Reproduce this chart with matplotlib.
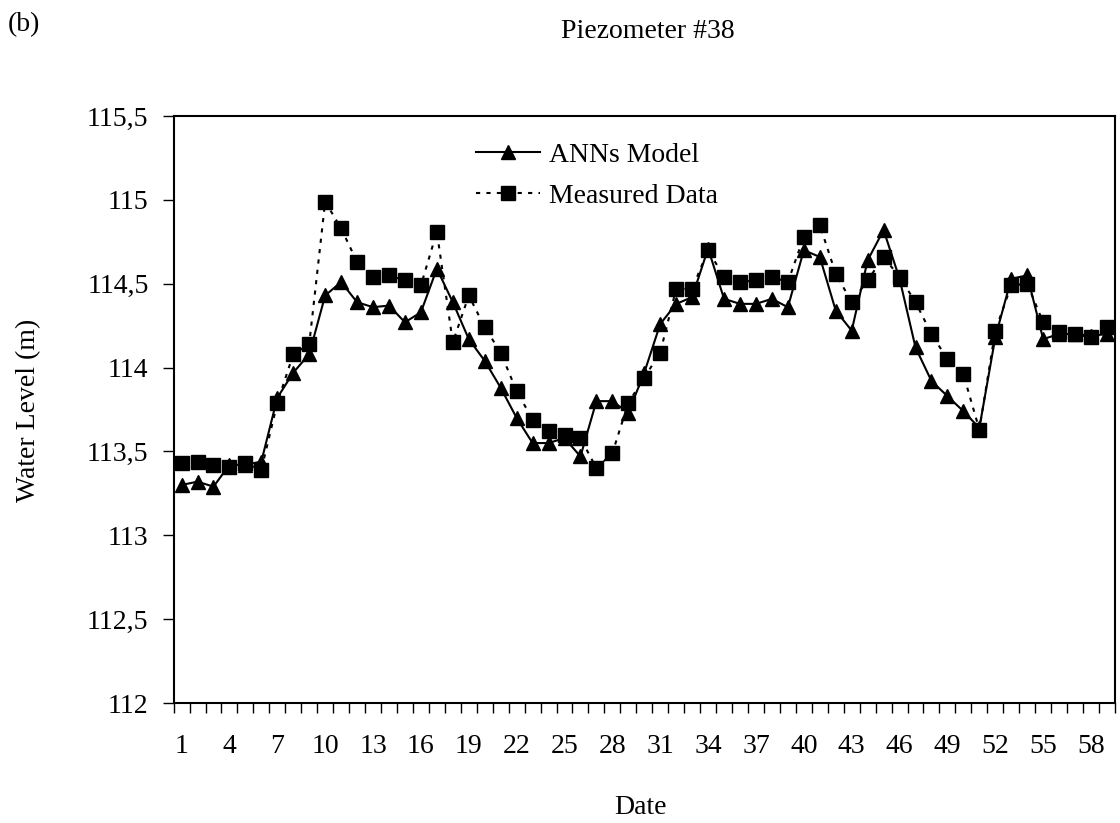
import matplotlib
matplotlib.use('Agg')
import numpy as np
import matplotlib.pyplot as plt
from matplotlib.ticker import FuncFormatter

# Fechas (indice de muestreo) y niveles de agua
fechas = np.arange(1, 60)

ann_model = [113.30, 113.32, 113.29, 113.42, 113.42, 113.44, 113.82, 113.97, 114.08, 114.43,
             114.51, 114.39, 114.36, 114.37, 114.27, 114.33, 114.59, 114.39, 114.17, 114.04,
             113.88, 113.70, 113.55, 113.55, 113.58, 113.47, 113.80, 113.80, 113.73, 113.97,
             114.26, 114.38, 114.42, 114.71, 114.41, 114.38, 114.38, 114.41, 114.36, 114.70,
             114.66, 114.34, 114.22, 114.64, 114.82, 114.53, 114.12, 113.92, 113.83, 113.74,
             113.64, 114.18, 114.53, 114.55, 114.17, 114.20, 114.20, 114.19, 114.20]

measured = [113.43, 113.44, 113.42, 113.41, 113.43, 113.39, 113.79, 114.08, 114.14, 114.99,
            114.83, 114.63, 114.54, 114.55, 114.52, 114.49, 114.81, 114.15, 114.43, 114.24,
            114.09, 113.86, 113.69, 113.62, 113.60, 113.58, 113.40, 113.49, 113.79, 113.94,
            114.09, 114.47, 114.47, 114.70, 114.54, 114.51, 114.52, 114.54, 114.51, 114.78,
            114.85, 114.56, 114.39, 114.52, 114.66, 114.54, 114.39, 114.20, 114.05, 113.96,
            113.63, 114.22, 114.49, 114.50, 114.27, 114.21, 114.20, 114.18, 114.24]

plt.rcParams['font.family'] = ['Liberation Serif', 'DejaVu Serif']
fs = 20

fig = plt.figure(figsize=(11.2, 8.23), dpi=100)
ax = fig.add_axes([0.155, 0.1458, 0.8405, 0.7132])

ax.plot(fechas, ann_model, 'k-', lw=1.5, marker='^', ms=10, label='ANNs Model')
ax.plot(fechas, measured, 'k', ls=(0, (2, 3)), lw=1.5, marker='s', ms=9.5, label='Measured Data')

ax.set_xlim(0.5, 59.5)
ax.set_ylim(112, 115.5)
ax.set_yticks(np.arange(112, 115.51, 0.5))
ax.yaxis.set_major_formatter(FuncFormatter(lambda v, p: ('%g' % v).replace('.', ',')))

# etiquetas cada 3 fechas, marcas entre categorias
ax.set_xticks(fechas[::3])
ax.set_xticks(np.arange(0.5, 60, 1), minor=True)
ax.tick_params(axis='x', which='major', length=0, pad=22, labelsize=fs)
ax.tick_params(axis='x', which='minor', length=7, width=1, direction='out')
ax.tick_params(axis='y', length=8, width=1, direction='out', pad=10, labelsize=fs)

for s in ax.spines.values():
    s.set_linewidth(1.5)

fig.text(29 / 1120, 1 - 410 / 823, 'Water Level (m)', fontsize=fs, rotation=90,
         ha='center', va='center')
fig.text(640 / 1120, 1 - 808 / 823, 'Date', fontsize=fs, ha='center', va='center')
fig.text(648 / 1120, 1 - 31 / 823, 'Piezometer #38', fontsize=fs, ha='center', va='center')
fig.text(8 / 1120, 1 - 25 / 823, '(b)', fontsize=fs, ha='left', va='center')

ax.legend(loc='upper left', bbox_to_anchor=(457 / 1120, 1 - 123 / 823),
          bbox_transform=fig.transFigure, frameon=False, fontsize=fs,
          handlelength=2.3, handletextpad=0.3, labelspacing=0.55, borderpad=0.2)

fig.savefig('out.png', dpi=100)
